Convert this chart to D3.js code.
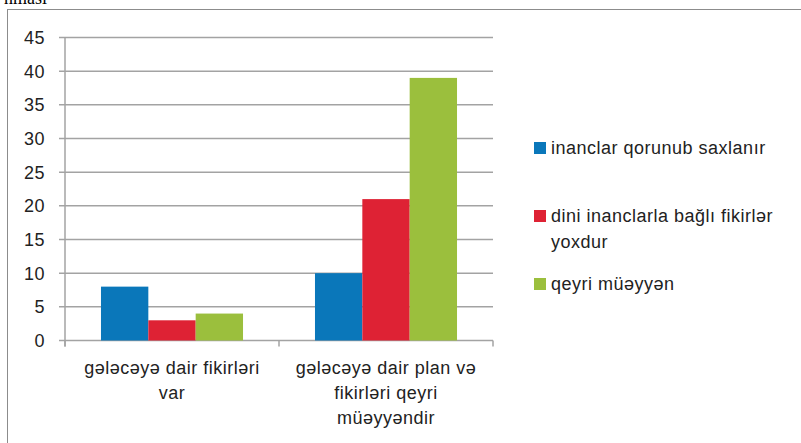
<!DOCTYPE html>
<meta charset="utf-8">
<style>
body { margin: 0; background: #fff; }
svg { display: block; }
.lbl { font-family: "Liberation Sans", Arial, sans-serif; font-size: 18px; letter-spacing: 0.5px; fill: #222; }
</style>
<svg width="801" height="443"></svg>
<script src="https://cdn.jsdelivr.net/npm/d3@7/dist/d3.min.js"></script>
<script>

var categories = ["gələcəyə dair fikirləri var", "gələcəyə dair plan və fikirləri qeyri müəyyəndir"];
var categoryLines = [["gələcəyə dair fikirləri", "var"], ["gələcəyə dair plan və", "fikirləri qeyri", "müəyyəndir"]];
var series = ["inanclar qorunub saxlanır", "dini inanclarla bağlı fikirlər yoxdur", "qeyri müəyyən"];
var seriesLines = [["inanclar qorunub saxlanır"], ["dini inanclarla bağlı fikirlər", "yoxdur"], ["qeyri müəyyən"]];
var colors = ["#0a77ba", "#de2234", "#9bbf3d"];
var values = [
  [8, 3, 4],    // gələcəyə dair fikirləri var
  [10, 21, 39]  // ... qeyri müəyyəndir
];
var yTicks = [0, 5, 10, 15, 20, 25, 30, 35, 40, 45];

var svg = d3.select("svg");

// cropped caption above the frame
svg.append("text")
    .attr("x", 47).attr("y", 4)
    .attr("text-anchor", "end")
    .style("font-family", "'Liberation Serif', 'Times New Roman', serif")
    .style("font-size", "18px")
    .attr("fill", "#000")
    .text("nması");

// outer chart frame (runs past the right and bottom edges)
svg.append("rect")
    .attr("x", 7.5).attr("y", 9.5)
    .attr("width", 820).attr("height", 460)
    .attr("fill", "none")
    .attr("stroke", "#8c8c8c");

var x = d3.scaleBand().domain(categories).range([65, 493]);
var x1 = d3.scaleBand().domain(series).range([0, x.bandwidth()]).paddingOuter(0.76);
var y = d3.scaleLinear().domain([0, 45]).range([340.5, 37.5]);

var gridColor = "#a3a3a3";

// gridlines + left ticks
svg.append("g").selectAll("line")
  .data(yTicks)
  .enter().append("line")
    .attr("x1", 59).attr("x2", 493)
    .attr("y1", function(d) { return y(d); })
    .attr("y2", function(d) { return y(d); })
    .attr("stroke", gridColor)
    .attr("stroke-width", 1.5);

svg.append("g").selectAll("text")
  .data(yTicks)
  .enter().append("text")
    .attr("class", "lbl")
    .attr("x", 45)
    .attr("y", function(d) { return y(d); })
    .attr("dy", "0.36em")
    .attr("text-anchor", "end")
    .text(function(d) { return d; });

// bars
var groups = svg.append("g").selectAll("g")
  .data(values)
  .enter().append("g")
    .attr("transform", function(d, i) { return "translate(" + x(categories[i]) + ",0)"; });

groups.selectAll("rect")
  .data(function(d) { return d; })
  .enter().append("rect")
    .attr("x", function(d, j) { return x1(series[j]); })
    .attr("width", x1.bandwidth())
    .attr("y", function(d) { return y(d); })
    .attr("height", function(d) { return y(0) - y(d); })
    .attr("fill", function(d, j) { return colors[j]; });

// y axis line
svg.append("line")
    .attr("x1", 65).attr("x2", 65)
    .attr("y1", y(45)).attr("y2", 346.5)
    .attr("stroke", gridColor).attr("stroke-width", 1.5);

// category ticks
var catEdges = categories.map(function(c) { return x(c); }).concat([493]);
svg.append("g").selectAll("line")
  .data(catEdges)
  .enter().append("line")
    .attr("x1", function(d) { return d; })
    .attr("x2", function(d) { return d; })
    .attr("y1", y(0)).attr("y2", 346.5)
    .attr("stroke", gridColor).attr("stroke-width", 1.5);

// category labels
svg.append("g").selectAll("text")
  .data(categories)
  .enter().append("text")
    .attr("class", "lbl")
    .attr("text-anchor", "middle")
    .attr("y", 374)
    .each(function(c, i) {
      var t = d3.select(this);
      categoryLines[i].forEach(function(line, k) {
        t.append("tspan")
          .attr("x", x(c) + x.bandwidth() / 2)
          .attr("dy", k === 0 ? 0 : 25)
          .text(line);
      });
    });

// legend
var legendY = [154, 222, 290];
var legend = svg.append("g").selectAll("g")
  .data(series)
  .enter().append("g")
    .attr("transform", function(d, i) { return "translate(534," + legendY[i] + ")"; });

legend.append("rect")
    .attr("x", 0).attr("y", -12)
    .attr("width", 12).attr("height", 12)
    .attr("fill", function(d, i) { return colors[i]; });

legend.append("text")
    .attr("class", "lbl")
    .attr("y", 0)
    .each(function(s, i) {
      var t = d3.select(this);
      seriesLines[i].forEach(function(line, k) {
        t.append("tspan")
          .attr("x", 17)
          .attr("dy", k === 0 ? 0 : 26)
          .text(line);
      });
    });

</script>
